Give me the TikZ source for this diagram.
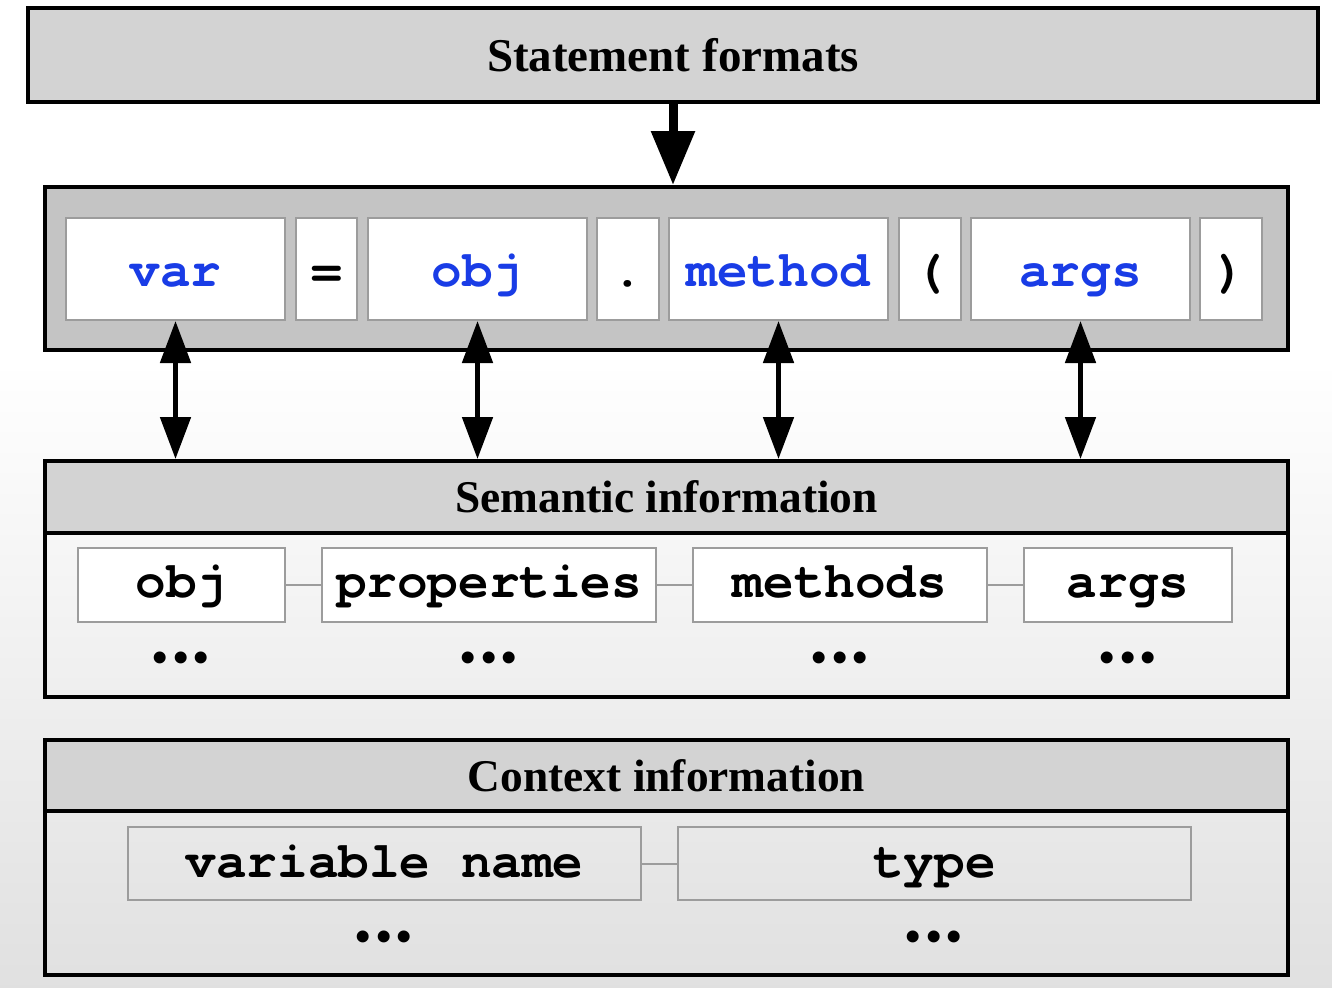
\documentclass[tikz,border=0pt]{standalone}
\usepackage{fontspec}
\setmainfont{Liberation Serif}
\setmonofont{TeX Gyre Cursor}
\usetikzlibrary{arrows.meta}
\definecolor{hdr}{HTML}{D3D3D3}
\definecolor{stm}{HTML}{C4C4C4}
\definecolor{kw}{RGB}{25,60,230}
\definecolor{ibord}{HTML}{9C9C9C}
\newcommand\threedots{\textbullet\kern2.6pt\textbullet\kern2.6pt\textbullet}
\begin{document}
\begin{tikzpicture}[x=0.5pt,y=-0.5pt,
  outer/.style={draw=black,line width=2pt,inner sep=0pt,minimum width=621.5pt},
  hdrbox/.style={outer,fill=hdr,minimum height=36pt,font=\fontsize{22.7}{28}\selectfont\bfseries},
  ibox/.style={draw=ibord,line width=1pt,inner sep=0pt,font=\fontsize{25.5}{30}\selectfont\ttfamily\bfseries},
  sbox/.style={ibox,fill=white,minimum height=51pt,text=kw,text height=21.5pt,text depth=4.5pt},
  pbox/.style={ibox,fill=white,minimum height=51pt,minimum width=30.5pt,text=black,text height=21.5pt,text depth=4.5pt},
  infobox/.style={ibox,minimum height=37pt,text height=18pt,text depth=6pt},
  ctxbox/.style={ibox,minimum height=36.5pt,minimum width=256.5pt,text height=19pt,text depth=5.5pt},
  dotsnode/.style={inner sep=0pt,font=\fontsize{22}{26}\selectfont\bfseries},
  link/.style={draw=ibord,line width=1pt},
  bigarrow/.style={-{Triangle[width=21pt,length=27pt]},line width=4.5pt},
  dblarrow/.style={{Triangle[width=15pt,length=21pt]}-{Triangle[width=15pt,length=21pt]},line width=2.5pt}
]
\useasboundingbox (0,0) rectangle (1332,987);
\fill[white] (0,0) rectangle (1332,987);
\shade[top color=white,bottom color=black!12] (0,360) rectangle (1332,987);

% top box
\node[outer,fill=hdr,minimum width=645pt,minimum height=47pt,font=\fontsize{23.5}{28}\selectfont\bfseries] (top) at (673,55) {Statement formats};

% statement box
\node[outer,fill=stm,minimum height=81.5pt] (stm) at (666.5,268.5) {};
\node[sbox,minimum width=109.5pt] (var) at (175.5,269) {var};
\node[pbox] (eq) at (326.5,269) {=};
\node[sbox,minimum width=109.5pt] (obj) at (477.5,269) {obj};
\node[pbox,minimum width=31pt] (dot) at (628,269) {.};
\node[sbox,minimum width=109.5pt] (meth) at (778.5,269) {method};
\node[pbox,minimum width=31pt] (lp) at (930,269) {(};
\node[sbox,minimum width=109.5pt] (args) at (1080.5,269) {args};
\node[pbox,minimum width=31pt] (rp) at (1231,269) {)};

\draw[bigarrow] (top.south) -- (top.south |- stm.north);

% semantic box
\node[outer,minimum height=118pt] (sem) at (666.5,579) {};
\node[hdrbox] (semh) at (666.5,497) {Semantic information};
\node[infobox,fill=white,minimum width=103.5pt] (sobj) at (181.5,585) {obj};
\node[infobox,fill=white,minimum width=167pt] (props) at (489,585) {properties};
\node[infobox,fill=white,minimum width=147pt] (meths) at (840,585) {methods};
\node[infobox,fill=white,minimum width=104pt] (sargs) at (1128,585) {args};
\draw[link] (sobj.east) -- (props.west);
\draw[link] (props.east) -- (meths.west);
\draw[link] (meths.east) -- (sargs.west);
\node[dotsnode] (d1) at (181,662) {\threedots};
\node[dotsnode] (d2) at (489,662) {\threedots};
\node[dotsnode] (d3) at (840,662) {\threedots};
\node[dotsnode] (d4) at (1128,662) {\threedots};

\foreach \n in {var,obj,meth,args}
  \draw[dblarrow] (\n.south) -- (\n.south |- semh.north);

% context box
\node[outer,minimum height=117.5pt] (ctx) at (666.5,857.5) {};
\node[hdrbox,minimum height=35.5pt] (ctxh) at (666.5,775.5) {Context information};
\node[ctxbox] (vname) at (384.5,863.5) {variable name};
\node[ctxbox] (type) at (934.5,863.5) {type};
\draw[link] (vname.east) -- (type.west);
\node[dotsnode] (d5) at (384,941) {\threedots};
\node[dotsnode] (d6) at (934,941) {\threedots};
\end{tikzpicture}
\end{document}
